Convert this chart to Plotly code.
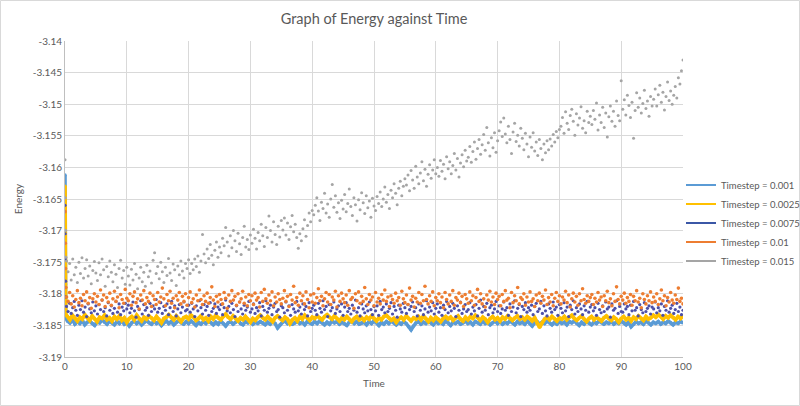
import plotly.graph_objects as go

# ---------------- DATA ----------------
series_names = ["Timestep = 0.001", "Timestep = 0.0025", "Timestep = 0.0075",
                "Timestep = 0.01", "Timestep = 0.015"]

# sampling interval of the main records (time units)
interval_dense = 0.4     # 0.001 and 0.0025 runs
interval_sparse = 0.25   # 0.0075, 0.01 and 0.015 runs

# initial transient right after t = 0 (times and energies)
t0_blue = [0, 0.005, 0.01, 0.015, 0.02, 0.03, 0.04, 0.05, 0.06, 0.08, 0.1]
e0_blue = [-3.1612, -3.1645, -3.1668, -3.1690, -3.1712, -3.1735, -3.1760, -3.1785, -3.1805, -3.1825, -3.1838]
t0_yellow = [0, 0.01, 0.02, 0.03, 0.05, 0.07, 0.1]
e0_yellow = [-3.1630, -3.1680, -3.1720, -3.1760, -3.1790, -3.1815, -3.1832]
t0_purple = [0, 0.03, 0.06, 0.1, 0.15]
e0_purple = [-3.1660, -3.1705, -3.1745, -3.1780, -3.1805]
t0_orange = [0, 0.04, 0.08, 0.15]
e0_orange = [-3.1670, -3.1720, -3.1760, -3.1790]
t0_gray = [0, 0.05, 0.1, 0.15]
e0_gray = [-3.1588, -3.1648, -3.1700, -3.1742]

e_blue = [
    -3.1843,-3.1846,-3.1841,-3.1848,-3.1844,-3.1847,-3.1842,-3.1849,-3.1845,-3.1843,-3.1847,-3.1850,-3.1844,-3.1846,-3.1841,-3.1845,-3.1848,-3.1843,-3.1846,-3.1849,
    -3.1844,-3.1847,-3.1842,-3.1848,-3.1845,-3.1851,-3.1846,-3.1843,-3.1847,-3.1844,-3.1849,-3.1845,-3.1842,-3.1846,-3.1848,-3.1843,-3.1847,-3.1845,-3.1850,-3.1846,
    -3.1843,-3.1847,-3.1844,-3.1849,-3.1845,-3.1842,-3.1846,-3.1848,-3.1844,-3.1847,-3.1843,-3.1846,-3.1850,-3.1845,-3.1848,-3.1844,-3.1847,-3.1842,-3.1846,-3.1849,
    -3.1845,-3.1848,-3.1843,-3.1847,-3.1851,-3.1846,-3.1844,-3.1848,-3.1845,-3.1842,-3.1847,-3.1849,-3.1844,-3.1846,-3.1843,-3.1848,-3.1845,-3.1847,-3.1844,-3.1846,
    -3.1849,-3.1845,-3.1848,-3.1844,-3.1847,-3.1854,-3.1849,-3.1845,-3.1843,-3.1847,-3.1844,-3.1848,-3.1846,-3.1843,-3.1847,-3.1845,-3.1849,-3.1844,-3.1846,-3.1848,
    -3.1844,-3.1847,-3.1843,-3.1846,-3.1849,-3.1845,-3.1848,-3.1843,-3.1846,-3.1844,-3.1848,-3.1845,-3.1847,-3.1850,-3.1845,-3.1843,-3.1847,-3.1844,-3.1848,-3.1846,
    -3.1845,-3.1849,-3.1844,-3.1847,-3.1843,-3.1846,-3.1850,-3.1845,-3.1848,-3.1844,-3.1847,-3.1843,-3.1846,-3.1849,-3.1845,-3.1848,-3.1844,-3.1847,-3.1852,-3.1857,
    -3.1851,-3.1846,-3.1844,-3.1848,-3.1845,-3.1847,-3.1843,-3.1846,-3.1849,-3.1844,-3.1847,-3.1845,-3.1848,-3.1843,-3.1846,-3.1850,-3.1845,-3.1847,-3.1844,-3.1848,
    -3.1846,-3.1843,-3.1847,-3.1845,-3.1849,-3.1844,-3.1846,-3.1848,-3.1843,-3.1847,-3.1845,-3.1849,-3.1846,-3.1843,-3.1847,-3.1844,-3.1848,-3.1845,-3.1847,-3.1843,
    -3.1846,-3.1849,-3.1844,-3.1847,-3.1845,-3.1848,-3.1843,-3.1847,-3.1851,-3.1846,-3.1844,-3.1848,-3.1845,-3.1847,-3.1843,-3.1846,-3.1849,-3.1845,-3.1848,-3.1844,
    -3.1847,-3.1845,-3.1849,-3.1844,-3.1846,-3.1843,-3.1847,-3.1850,-3.1845,-3.1848,-3.1844,-3.1846,-3.1849,-3.1845,-3.1847,-3.1843,-3.1846,-3.1848,-3.1845,-3.1847,
    -3.1844,-3.1848,-3.1845,-3.1847,-3.1843,-3.1846,-3.1849,-3.1845,-3.1852,-3.1848,-3.1844,-3.1847,-3.1845,-3.1848,-3.1843,-3.1846,-3.1849,-3.1845,-3.1847,-3.1844,
    -3.1848,-3.1845,-3.1847,-3.1843,-3.1846,-3.1849,-3.1845,-3.1847,-3.1844,-3.1846,
]

e_yellow = [
    -3.1836,-3.1841,-3.1834,-3.1839,-3.1843,-3.1837,-3.1840,-3.1833,-3.1838,-3.1842,-3.1835,-3.1840,-3.1844,-3.1837,-3.1839,-3.1834,-3.1841,-3.1838,-3.1843,-3.1836,
    -3.1840,-3.1835,-3.1842,-3.1838,-3.1845,-3.1839,-3.1836,-3.1841,-3.1834,-3.1839,-3.1843,-3.1837,-3.1840,-3.1835,-3.1838,-3.1842,-3.1836,-3.1840,-3.1846,-3.1839,
    -3.1837,-3.1833,-3.1838,-3.1841,-3.1835,-3.1839,-3.1844,-3.1838,-3.1836,-3.1840,-3.1834,-3.1837,-3.1842,-3.1839,-3.1835,-3.1841,-3.1838,-3.1843,-3.1836,-3.1840,
    -3.1834,-3.1838,-3.1841,-3.1836,-3.1832,-3.1837,-3.1840,-3.1835,-3.1839,-3.1843,-3.1838,-3.1841,-3.1836,-3.1840,-3.1845,-3.1839,-3.1842,-3.1837,-3.1834,-3.1838,
    -3.1841,-3.1836,-3.1840,-3.1844,-3.1838,-3.1835,-3.1839,-3.1842,-3.1837,-3.1840,-3.1847,-3.1841,-3.1838,-3.1843,-3.1836,-3.1840,-3.1834,-3.1839,-3.1842,-3.1837,
    -3.1839,-3.1835,-3.1838,-3.1841,-3.1836,-3.1833,-3.1837,-3.1840,-3.1835,-3.1839,-3.1843,-3.1838,-3.1841,-3.1836,-3.1840,-3.1844,-3.1839,-3.1836,-3.1841,-3.1838,
    -3.1842,-3.1837,-3.1840,-3.1835,-3.1839,-3.1843,-3.1838,-3.1841,-3.1836,-3.1834,-3.1838,-3.1842,-3.1839,-3.1845,-3.1840,-3.1837,-3.1841,-3.1835,-3.1839,-3.1843,
    -3.1838,-3.1840,-3.1836,-3.1841,-3.1835,-3.1839,-3.1844,-3.1838,-3.1842,-3.1837,-3.1840,-3.1844,-3.1839,-3.1836,-3.1840,-3.1837,-3.1842,-3.1838,-3.1835,-3.1840,
    -3.1843,-3.1837,-3.1841,-3.1836,-3.1839,-3.1834,-3.1838,-3.1842,-3.1837,-3.1840,-3.1845,-3.1839,-3.1836,-3.1841,-3.1838,-3.1843,-3.1837,-3.1840,-3.1835,-3.1839,
    -3.1842,-3.1838,-3.1835,-3.1840,-3.1837,-3.1841,-3.1836,-3.1839,-3.1843,-3.1838,-3.1847,-3.1853,-3.1846,-3.1840,-3.1837,-3.1841,-3.1836,-3.1839,-3.1843,-3.1838,
    -3.1840,-3.1836,-3.1841,-3.1837,-3.1834,-3.1839,-3.1842,-3.1838,-3.1835,-3.1840,-3.1844,-3.1839,-3.1836,-3.1841,-3.1837,-3.1840,-3.1843,-3.1838,-3.1835,-3.1839,
    -3.1842,-3.1837,-3.1840,-3.1845,-3.1839,-3.1836,-3.1841,-3.1838,-3.1843,-3.1837,-3.1840,-3.1835,-3.1839,-3.1842,-3.1836,-3.1840,-3.1838,-3.1834,-3.1837,-3.1833,
    -3.1836,-3.1840,-3.1835,-3.1838,-3.1834,-3.1837,-3.1841,-3.1836,-3.1839,-3.1835,
]

e_purple = [
    -3.1820,-3.1828,-3.1815,-3.1831,-3.1822,-3.1812,-3.1826,-3.1834,-3.1818,-3.1825,-3.1811,-3.1829,-3.1821,-3.1836,-3.1816,-3.1824,-3.1830,-3.1813,-3.1827,-3.1819,
    -3.1832,-3.1817,-3.1825,-3.1810,-3.1828,-3.1822,-3.1835,-3.1814,-3.1826,-3.1819,-3.1831,-3.1823,-3.1812,-3.1829,-3.1816,-3.1833,-3.1821,-3.1827,-3.1815,-3.1824,
    -3.1818,-3.1830,-3.1823,-3.1813,-3.1827,-3.1837,-3.1820,-3.1825,-3.1811,-3.1832,-3.1817,-3.1826,-3.1822,-3.1834,-3.1815,-3.1828,-3.1819,-3.1824,-3.1809,-3.1829,
    -3.1823,-3.1814,-3.1831,-3.1820,-3.1826,-3.1816,-3.1833,-3.1822,-3.1812,-3.1828,-3.1819,-3.1835,-3.1824,-3.1817,-3.1830,-3.1821,-3.1813,-3.1827,-3.1825,-3.1818,
    -3.1829,-3.1815,-3.1824,-3.1836,-3.1819,-3.1827,-3.1811,-3.1822,-3.1832,-3.1817,-3.1826,-3.1820,-3.1834,-3.1814,-3.1828,-3.1823,-3.1816,-3.1831,-3.1821,-3.1825,
    -3.1817,-3.1833,-3.1822,-3.1810,-3.1827,-3.1820,-3.1830,-3.1815,-3.1825,-3.1836,-3.1819,-3.1828,-3.1813,-3.1824,-3.1832,-3.1818,-3.1826,-3.1821,-3.1812,-3.1829,
    -3.1824,-3.1816,-3.1831,-3.1822,-3.1827,-3.1814,-3.1835,-3.1820,-3.1826,-3.1811,-3.1829,-3.1823,-3.1818,-3.1833,-3.1821,-3.1815,-3.1828,-3.1825,-3.1837,-3.1819,
    -3.1822,-3.1830,-3.1813,-3.1826,-3.1819,-3.1834,-3.1817,-3.1824,-3.1829,-3.1812,-3.1827,-3.1821,-3.1832,-3.1816,-3.1825,-3.1820,-3.1835,-3.1814,-3.1828,-3.1823,
    -3.1818,-3.1826,-3.1833,-3.1815,-3.1823,-3.1829,-3.1811,-3.1825,-3.1820,-3.1836,-3.1817,-3.1827,-3.1822,-3.1813,-3.1831,-3.1824,-3.1819,-3.1828,-3.1816,-3.1834,
    -3.1821,-3.1814,-3.1828,-3.1823,-3.1832,-3.1818,-3.1826,-3.1810,-3.1829,-3.1822,-3.1835,-3.1816,-3.1824,-3.1830,-3.1819,-3.1827,-3.1813,-3.1825,-3.1833,-3.1820,
    -3.1827,-3.1819,-3.1834,-3.1812,-3.1825,-3.1821,-3.1830,-3.1816,-3.1828,-3.1823,-3.1814,-3.1832,-3.1820,-3.1826,-3.1837,-3.1818,-3.1824,-3.1829,-3.1815,-3.1822,
    -3.1831,-3.1817,-3.1825,-3.1820,-3.1813,-3.1828,-3.1822,-3.1835,-3.1816,-3.1826,-3.1819,-3.1833,-3.1824,-3.1811,-3.1829,-3.1821,-3.1827,-3.1814,-3.1832,-3.1823,
    -3.1816,-3.1829,-3.1822,-3.1834,-3.1818,-3.1825,-3.1812,-3.1830,-3.1820,-3.1827,-3.1815,-3.1823,-3.1836,-3.1819,-3.1826,-3.1813,-3.1831,-3.1824,-3.1817,-3.1828,
    -3.1825,-3.1814,-3.1832,-3.1821,-3.1827,-3.1817,-3.1835,-3.1823,-3.1810,-3.1829,-3.1820,-3.1826,-3.1815,-3.1833,-3.1822,-3.1818,-3.1830,-3.1824,-3.1812,-3.1828,
    -3.1819,-3.1831,-3.1824,-3.1813,-3.1826,-3.1822,-3.1834,-3.1816,-3.1828,-3.1821,-3.1811,-3.1830,-3.1823,-3.1817,-3.1836,-3.1820,-3.1825,-3.1814,-3.1829,-3.1822,
    -3.1826,-3.1818,-3.1833,-3.1820,-3.1815,-3.1828,-3.1824,-3.1812,-3.1831,-3.1819,-3.1827,-3.1835,-3.1816,-3.1823,-3.1829,-3.1813,-3.1825,-3.1821,-3.1834,-3.1817,
    -3.1823,-3.1830,-3.1814,-3.1827,-3.1821,-3.1836,-3.1818,-3.1825,-3.1811,-3.1832,-3.1822,-3.1828,-3.1816,-3.1824,-3.1833,-3.1819,-3.1826,-3.1812,-3.1829,-3.1821,
    -3.1817,-3.1827,-3.1822,-3.1834,-3.1815,-3.1825,-3.1830,-3.1819,-3.1828,-3.1813,-3.1824,-3.1821,-3.1837,-3.1816,-3.1826,-3.1823,-3.1811,-3.1831,-3.1820,-3.1828,
    -3.1829,-3.1816,-3.1824,-3.1820,-3.1833,-3.1818,-3.1827,-3.1812,-3.1826,-3.1822,-3.1835,-3.1817,-3.1825,-3.1830,-3.1814,-3.1828,-3.1823,-3.1819,-3.1832,-3.1821,
    -3.1824,-3.1813,-3.1830,-3.1822,-3.1827,-3.1816,-3.1834,-3.1820,-3.1826,-3.1811,-3.1829,-3.1823,-3.1818,-3.1831,-3.1825,-3.1815,-3.1828,-3.1821,-3.1833,-3.1826,
]

e_orange = [
    -3.1805,-3.1812,-3.1798,-3.1816,-3.1803,-3.1821,-3.1809,-3.1795,-3.1814,-3.1807,-3.1819,-3.1801,-3.1811,-3.1797,-3.1815,-3.1806,-3.1823,-3.1808,-3.1800,-3.1813,
    -3.1804,-3.1817,-3.1794,-3.1810,-3.1802,-3.1820,-3.1806,-3.1813,-3.1799,-3.1818,-3.1808,-3.1796,-3.1812,-3.1805,-3.1822,-3.1801,-3.1809,-3.1815,-3.1793,-3.1807,
    -3.1811,-3.1800,-3.1818,-3.1804,-3.1797,-3.1814,-3.1808,-3.1824,-3.1802,-3.1810,-3.1795,-3.1816,-3.1806,-3.1812,-3.1799,-3.1820,-3.1803,-3.1809,-3.1817,-3.1798,
    -3.1813,-3.1805,-3.1791,-3.1808,-3.1819,-3.1801,-3.1811,-3.1796,-3.1815,-3.1807,-3.1822,-3.1803,-3.1810,-3.1798,-3.1816,-3.1804,-3.1812,-3.1800,-3.1818,-3.1806,
    -3.1797,-3.1814,-3.1808,-3.1821,-3.1802,-3.1811,-3.1794,-3.1809,-3.1817,-3.1803,-3.1812,-3.1799,-3.1815,-3.1806,-3.1789,-3.1810,-3.1820,-3.1804,-3.1813,-3.1801,
    -3.1809,-3.1816,-3.1798,-3.1807,-3.1823,-3.1802,-3.1812,-3.1795,-3.1810,-3.1804,-3.1818,-3.1800,-3.1813,-3.1808,-3.1796,-3.1815,-3.1805,-3.1819,-3.1801,-3.1811,
    -3.1803,-3.1817,-3.1799,-3.1810,-3.1806,-3.1821,-3.1798,-3.1812,-3.1793,-3.1808,-3.1815,-3.1802,-3.1811,-3.1797,-3.1819,-3.1805,-3.1813,-3.1800,-3.1809,-3.1816,
    -3.1807,-3.1795,-3.1812,-3.1804,-3.1820,-3.1801,-3.1810,-3.1788,-3.1814,-3.1806,-3.1818,-3.1799,-3.1811,-3.1803,-3.1816,-3.1797,-3.1809,-3.1822,-3.1802,-3.1813,
    -3.1800,-3.1815,-3.1806,-3.1792,-3.1811,-3.1804,-3.1819,-3.1808,-3.1798,-3.1813,-3.1801,-3.1817,-3.1805,-3.1810,-3.1796,-3.1821,-3.1803,-3.1812,-3.1799,-3.1808,
    -3.1814,-3.1802,-3.1818,-3.1795,-3.1809,-3.1806,-3.1823,-3.1800,-3.1811,-3.1797,-3.1815,-3.1804,-3.1812,-3.1790,-3.1808,-3.1817,-3.1801,-3.1810,-3.1805,-3.1819,
    -3.1798,-3.1813,-3.1807,-3.1816,-3.1801,-3.1810,-3.1794,-3.1812,-3.1805,-3.1820,-3.1803,-3.1809,-3.1815,-3.1799,-3.1811,-3.1806,-3.1818,-3.1796,-3.1808,-3.1814,
    -3.1802,-3.1817,-3.1791,-3.1810,-3.1804,-3.1821,-3.1807,-3.1813,-3.1798,-3.1815,-3.1801,-3.1811,-3.1788,-3.1809,-3.1816,-3.1803,-3.1812,-3.1797,-3.1819,-3.1806,
    -3.1811,-3.1800,-3.1814,-3.1805,-3.1822,-3.1798,-3.1809,-3.1816,-3.1802,-3.1812,-3.1795,-3.1818,-3.1806,-3.1810,-3.1799,-3.1814,-3.1804,-3.1820,-3.1801,-3.1808,
    -3.1815,-3.1797,-3.1811,-3.1803,-3.1818,-3.1806,-3.1793,-3.1812,-3.1800,-3.1816,-3.1808,-3.1821,-3.1802,-3.1810,-3.1796,-3.1813,-3.1805,-3.1817,-3.1799,-3.1809,
    -3.1804,-3.1819,-3.1801,-3.1812,-3.1795,-3.1810,-3.1807,-3.1822,-3.1798,-3.1814,-3.1803,-3.1811,-3.1790,-3.1816,-3.1806,-3.1809,-3.1800,-3.1818,-3.1805,-3.1813,
    -3.1797,-3.1812,-3.1808,-3.1820,-3.1802,-3.1811,-3.1799,-3.1815,-3.1804,-3.1810,-3.1794,-3.1817,-3.1806,-3.1813,-3.1801,-3.1819,-3.1807,-3.1798,-3.1812,-3.1803,
    -3.1816,-3.1805,-3.1810,-3.1796,-3.1814,-3.1802,-3.1821,-3.1808,-3.1799,-3.1813,-3.1804,-3.1818,-3.1800,-3.1811,-3.1792,-3.1809,-3.1815,-3.1803,-3.1812,-3.1806,
    -3.1801,-3.1817,-3.1807,-3.1813,-3.1798,-3.1810,-3.1805,-3.1820,-3.1803,-3.1811,-3.1796,-3.1814,-3.1808,-3.1819,-3.1800,-3.1812,-3.1789,-3.1809,-3.1816,-3.1804,
    -3.1810,-3.1799,-3.1815,-3.1806,-3.1812,-3.1801,-3.1818,-3.1804,-3.1811,-3.1795,-3.1813,-3.1807,-3.1822,-3.1800,-3.1809,-3.1816,-3.1803,-3.1811,-3.1797,-3.1814,
    -3.1805,-3.1812,-3.1800,-3.1817,-3.1808,-3.1794,-3.1811,-3.1803,-3.1819,-3.1806,-3.1813,-3.1798,-3.1810,-3.1815,-3.1802,-3.1809,-3.1791,-3.1812,-3.1807,-3.1816,
]

e_gray = [
    -3.1748,-3.1765,-3.1752,-3.1778,-3.1745,-3.1770,-3.1758,-3.1782,-3.1750,-3.1768,-3.1743,-3.1775,-3.1760,-3.1746,-3.1772,-3.1756,-3.1784,-3.1763,-3.1749,-3.1767,
    -3.1779,-3.1751,-3.1770,-3.1745,-3.1762,-3.1788,-3.1757,-3.1773,-3.1748,-3.1766,-3.1781,-3.1754,-3.1769,-3.1790,-3.1760,-3.1747,-3.1775,-3.1763,-3.1785,-3.1758,
    -3.1772,-3.1786,-3.1761,-3.1778,-3.1752,-3.1769,-3.1792,-3.1775,-3.1758,-3.1781,-3.1766,-3.1788,-3.1755,-3.1773,-3.1764,-3.1783,-3.1747,-3.1735,-3.1768,-3.1757,
    -3.1776,-3.1750,-3.1765,-3.1782,-3.1758,-3.1771,-3.1744,-3.1767,-3.1779,-3.1753,-3.1762,-3.1787,-3.1756,-3.1770,-3.1748,-3.1764,-3.1775,-3.1752,-3.1760,-3.1746,
    -3.1768,-3.1752,-3.1762,-3.1745,-3.1757,-3.1740,-3.1766,-3.1748,-3.1706,-3.1737,-3.1751,-3.1729,-3.1744,-3.1722,-3.1739,-3.1754,-3.1731,-3.1718,-3.1742,-3.1726,
    -3.1735,-3.1712,-3.1724,-3.1695,-3.1718,-3.1740,-3.1708,-3.1727,-3.1700,-3.1716,-3.1733,-3.1704,-3.1721,-3.1738,-3.1711,-3.1693,-3.1726,-3.1714,-3.1730,-3.1707,
    -3.1720,-3.1698,-3.1712,-3.1729,-3.1703,-3.1716,-3.1690,-3.1708,-3.1725,-3.1695,-3.1711,-3.1677,-3.1700,-3.1718,-3.1686,-3.1706,-3.1722,-3.1693,-3.1710,-3.1684,
    -3.1699,-3.1680,-3.1707,-3.1688,-3.1714,-3.1694,-3.1676,-3.1702,-3.1690,-3.1711,-3.1728,-3.1705,-3.1716,-3.1697,-3.1683,-3.1709,-3.1692,-3.1672,-3.1686,-3.1668,
    -3.1675,-3.1660,-3.1648,-3.1669,-3.1684,-3.1655,-3.1665,-3.1641,-3.1672,-3.1658,-3.1679,-3.1650,-3.1627,-3.1663,-3.1645,-3.1671,-3.1656,-3.1681,-3.1652,-3.1666,
    -3.1643,-3.1670,-3.1657,-3.1634,-3.1662,-3.1676,-3.1648,-3.1659,-3.1685,-3.1651,-3.1667,-3.1640,-3.1656,-3.1673,-3.1645,-3.1664,-3.1653,-3.1679,-3.1649,-3.1661,
    -3.1668,-3.1646,-3.1657,-3.1639,-3.1662,-3.1650,-3.1631,-3.1655,-3.1643,-3.1665,-3.1636,-3.1648,-3.1626,-3.1641,-3.1659,-3.1633,-3.1622,-3.1645,-3.1630,-3.1618,
    -3.1628,-3.1612,-3.1637,-3.1605,-3.1620,-3.1633,-3.1598,-3.1615,-3.1626,-3.1609,-3.1591,-3.1621,-3.1603,-3.1630,-3.1611,-3.1596,-3.1617,-3.1604,-3.1588,-3.1610,
    -3.1600,-3.1614,-3.1589,-3.1606,-3.1595,-3.1618,-3.1583,-3.1602,-3.1591,-3.1610,-3.1597,-3.1578,-3.1604,-3.1586,-3.1615,-3.1593,-3.1580,-3.1599,-3.1573,-3.1590,
    -3.1584,-3.1567,-3.1592,-3.1575,-3.1560,-3.1587,-3.1570,-3.1556,-3.1579,-3.1564,-3.1548,-3.1573,-3.1537,-3.1561,-3.1582,-3.1553,-3.1569,-3.1545,-3.1576,-3.1558,
    -3.1542,-3.1528,-3.1551,-3.1522,-3.1547,-3.1561,-3.1535,-3.1556,-3.1578,-3.1544,-3.1530,-3.1559,-3.1549,-3.1566,-3.1538,-3.1554,-3.1572,-3.1546,-3.1563,-3.1583,
    -3.1552,-3.1568,-3.1545,-3.1574,-3.1560,-3.1581,-3.1556,-3.1570,-3.1588,-3.1563,-3.1577,-3.1558,-3.1572,-3.1555,-3.1566,-3.1548,-3.1560,-3.1543,-3.1553,-3.1540,
    -3.1535,-3.1521,-3.1546,-3.1512,-3.1530,-3.1540,-3.1518,-3.1508,-3.1527,-3.1549,-3.1515,-3.1533,-3.1522,-3.1504,-3.1538,-3.1526,-3.1545,-3.1511,-3.1529,-3.1519,
    -3.1532,-3.1510,-3.1524,-3.1498,-3.1541,-3.1517,-3.1529,-3.1505,-3.1537,-3.1514,-3.1552,-3.1520,-3.1503,-3.1527,-3.1511,-3.1535,-3.1495,-3.1518,-3.1526,-3.1463,
    -3.1508,-3.1493,-3.1517,-3.1486,-3.1502,-3.1521,-3.1497,-3.1554,-3.1510,-3.1482,-3.1505,-3.1490,-3.1514,-3.1499,-3.1478,-3.1507,-3.1495,-3.1519,-3.1488,-3.1503,
    -3.1492,-3.1476,-3.1503,-3.1485,-3.1470,-3.1497,-3.1481,-3.1509,-3.1488,-3.1465,-3.1494,-3.1479,-3.1500,-3.1486,-3.1472,-3.1490,-3.1458,-3.1468,-3.1447,-3.1430,
]

x_ticks = [0, 10, 20, 30, 40, 50, 60, 70, 80, 90, 100]
y_ticks = [-3.19, -3.185, -3.18, -3.175, -3.17, -3.165, -3.16, -3.155, -3.15, -3.145, -3.14]
y_tick_labels = ["-3.19", "-3.185", "-3.18", "-3.175", "-3.17", "-3.165", "-3.16",
                 "-3.155", "-3.15", "-3.145", "-3.14"]

# ---------------- STYLE ----------------
colors = {"blue": "#5B9BD5", "yellow": "#FFC000", "purple": "#4D50A8",
          "orange": "#ED7D31", "gray": "#A5A5A5"}
legend_colors = ["#5B9BD5", "#FFC000", "#3B57A6", "#ED7D31", "#A5A5A5"]
FONT = "Lato, 'Open Sans', sans-serif"
TXT = "#595959"


def times(t0, interval, n):
    return list(t0) + [round(interval * (i + 1), 4) for i in range(n)]


fig = go.Figure()

# 0.001 -> dense band
fig.add_trace(go.Scatter(x=times(t0_blue, interval_dense, len(e_blue)), y=e0_blue + e_blue,
                         mode="lines+markers", line=dict(color=colors["blue"], width=3.6),
                         marker=dict(size=3.5, color=colors["blue"]), showlegend=False, hoverinfo="skip"))
# 0.0025 -> dense band
fig.add_trace(go.Scatter(x=times(t0_yellow, interval_dense, len(e_yellow)), y=e0_yellow + e_yellow,
                         mode="lines+markers", line=dict(color=colors["yellow"], width=3.8),
                         marker=dict(size=3.5, color=colors["yellow"]), showlegend=False, hoverinfo="skip"))
# 0.0075
fig.add_trace(go.Scatter(x=times(t0_purple, interval_sparse, len(e_purple)), y=e0_purple + e_purple,
                         mode="markers", marker=dict(size=3.2, color=colors["purple"]),
                         showlegend=False, hoverinfo="skip"))
# 0.01
fig.add_trace(go.Scatter(x=times(t0_orange, interval_sparse, len(e_orange)), y=e0_orange + e_orange,
                         mode="markers", marker=dict(size=3.6, color=colors["orange"]),
                         showlegend=False, hoverinfo="skip"))
# 0.015
fig.add_trace(go.Scatter(x=times(t0_gray, interval_sparse, len(e_gray)), y=e0_gray + e_gray,
                         mode="markers", marker=dict(size=3.0, color=colors["gray"]),
                         showlegend=False, hoverinfo="skip"))

# legend entries (line samples, as in the original legend)
for name, c in zip(series_names, legend_colors):
    fig.add_trace(go.Scatter(x=[None], y=[None], mode="lines", name=name,
                             line=dict(color=c, width=2)))

fig.update_layout(
    width=800, height=406,
    paper_bgcolor="white", plot_bgcolor="white",
    margin=dict(l=65, r=117, t=41, b=49, autoexpand=False),
    title=dict(text="Graph of Energy against Time", x=(65 + 683) / 2 / 800, xanchor="center",
               y=1 - 19 / 406, yanchor="middle", font=dict(family=FONT, size=14.5, color=TXT)),
    font=dict(family=FONT, size=10, color=TXT),
    legend=dict(x=(681 - 65) / 618, xanchor="left",
                y=(357 - 223) / 316, yanchor="middle",
                font=dict(family=FONT, size=9.5, color=TXT), itemwidth=30,
                tracegroupgap=0, bgcolor="rgba(0,0,0,0)"),
    showlegend=True,
    hovermode=False,
    shapes=[dict(type="rect", xref="paper", yref="paper",
                 x0=-64.5 / 618, x1=1 + 116.5 / 618, y0=-48.5 / 316, y1=1 + 40.5 / 316,
                 line=dict(color="#D9D9D9", width=1), fillcolor="rgba(0,0,0,0)", layer="below")],
)
fig.update_xaxes(range=[0, 100], tickvals=x_ticks, showgrid=True, gridcolor="#D9D9D9", gridwidth=1,
                 showline=True, linecolor="#BFBFBF", linewidth=1, zeroline=False, ticks="",
                 automargin=False, tickfont=dict(family=FONT, size=10, color=TXT),
                 title=dict(text="Time", font=dict(family=FONT, size=10, color=TXT), standoff=8))
fig.update_yaxes(range=[-3.19, -3.14], tickvals=y_ticks, ticktext=y_tick_labels, showgrid=True,
                 gridcolor="#D9D9D9", gridwidth=1, showline=True, linecolor="#BFBFBF", linewidth=1,
                 zeroline=False, ticks="", automargin=False, tickfont=dict(family=FONT, size=10, color=TXT),
                 title=dict(text="Energy", font=dict(family=FONT, size=10, color=TXT), standoff=8))

# remove the browser's default page margin so the 800x406 figure fills the window exactly
fig.write_html("out.html", config={"displayModeBar": False},
               post_script="document.body.style.margin='0';document.body.style.overflow='hidden';")
